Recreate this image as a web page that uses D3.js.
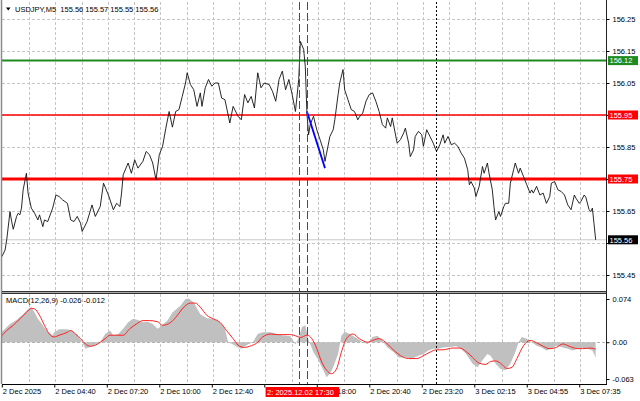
<!DOCTYPE html>
<html><head><meta charset="utf-8">
<script src="https://cdn.jsdelivr.net/npm/d3@7"></script>
<style>
body{margin:0;background:#fff;}
svg{display:block;font-family:"Liberation Sans",Arial,sans-serif;}
</style></head><body><svg id="c" width="640" height="401"></svg>
<script>
// ---------- DATA ----------
const symbolTitle = "USDJPY,M5  155.56 155.57 155.55 155.56";
const macdTitle = "MACD(12,26,9) -0.026 -0.012";
const priceBars = [0,2,3,5,6,7,9,10,11,12,
13,15,16,18,20,22,23,25,26,28,
31,33,35,37,40,42,44,46,48,49,
52,55,57,60,62,65,68,70,72,73,
74,77,79,81,83,86,88,90,92,94,
96,98,100,102,104,106,108,110,112,113,
115,117,119,121,122,124,126,128,130,132,
134,136,139,141,144,146,148,150,152,154,
156,158,160,163,165,167,169,171,173,175,
177,179,181,182,184,185,186,187,188,190,
192,194,196,197,198,200,202,203,205,206,
208,209,211,213,215,217,218,220,222,224,
226,228,230,232,234,235,237,238,241,243,
245,246,248,249,251,252,254,256,257,259,
261,263,265,267,269,270,272,274,276,278,
280,282,284,285,286,288,289,291,293,294,
296,297,299,300,301,303,304,306,307,309,
310,312,313,315,316,318,320,322,323,324,
326,328,330,332,334,335,337,339,341,343,
345,347,349,350,352,353,355,356,358,359,
360,361,362];
const priceValues = [155.507,155.528,155.560,155.648,155.617,155.593,155.633,155.643,155.638,155.659,
155.716,155.768,155.706,155.659,155.643,155.622,155.638,155.601,155.622,155.617,
155.659,155.700,155.695,155.685,155.674,155.622,155.617,155.633,155.612,155.586,
155.617,155.669,155.633,155.664,155.737,155.700,155.654,155.674,155.664,155.706,
155.763,155.800,155.768,155.810,155.784,155.805,155.836,155.826,155.800,155.747,
155.826,155.852,155.909,155.961,155.912,155.961,155.967,156.008,156.050,156.082,
156.045,156.029,155.977,156.019,155.977,156.035,156.061,156.040,156.050,156.050,
156.003,155.998,155.925,155.977,155.946,155.935,156.014,155.988,156.008,155.972,
156.082,156.035,156.050,156.045,156.024,155.993,156.061,156.087,156.029,156.061,
156.014,155.961,156.061,156.180,156.155,156.102,155.956,155.888,155.920,155.946,
155.904,155.873,155.841,155.805,155.831,155.883,155.904,155.935,156.014,156.050,
156.092,156.029,155.998,155.967,155.961,155.935,155.944,155.956,155.993,156.014,
156.019,155.993,155.961,155.920,155.909,155.941,155.914,155.941,155.862,155.873,
155.894,155.909,155.862,155.820,155.841,155.883,155.899,155.888,155.852,155.904,
155.883,155.862,155.836,155.857,155.888,155.862,155.883,155.857,155.862,155.852,
155.831,155.815,155.779,155.732,155.742,155.722,155.695,155.727,155.789,155.768,
155.800,155.768,155.716,155.664,155.622,155.648,155.633,155.664,155.674,155.674,
155.737,155.779,155.800,155.768,155.784,155.758,155.732,155.706,155.716,155.706,
155.727,155.700,155.706,155.674,155.695,155.737,155.742,155.716,155.711,155.700,
155.669,155.654,155.700,155.690,155.674,155.680,155.700,155.693,155.654,155.648,
155.659,155.610,155.560];
const lastPrice = 155.56;
const trendBars = [186,197];
const trendValues = [155.961,155.784];
const levelValues = [156.12, 155.95, 155.75];
const eventBars = [181.3, 186.2];
const sessionBar = 264.4;
const eventLabel = "2: 2025.12.02 17:30";

const histBars = [0,2,5,9,13,16,18,20,22,25,28,31,32,35,40,43,46,49,51,53,56,60,63,66,68,71,74,77,80,83,86,89,92,95,96,101,104,109,112,114,117,121,125,129,133,136,138,141,144,146,150,153,156,159,164,168,171,176,179,181,183,185,187,190,193,196,198,200,202,205,207,209,212,217,220,223,226,229,232,235,239,242,246,250,254,257,260,263,266,269,273,277,280,283,287,290,293,296,298,301,304,307,310,313,315,317,320,323,326,329,332,335,338,342,345,348,351,354,357,360,362];
const histValues = [0.018,0.023,0.031,0.038,0.048,0.057,0.060,0.051,0.040,0.029,0.017,0.012,0.017,0.022,0.022,0.019,0.012,0,-0.011,-0.009,-0.005,0,0.014,0.020,0.012,0.014,0.023,0.034,0.040,0.038,0.034,0.035,0.031,0.023,0.025,0.037,0.051,0.063,0.074,0.075,0.068,0.048,0.041,0.040,0.034,0.023,0,-0.004,-0.009,-0.011,-0.004,0,0.014,0.017,0.017,0.014,0.012,0.010,-0.004,0.008,0.026,0.029,0.004,-0.017,-0.031,-0.048,-0.060,-0.054,-0.043,-0.020,0.011,0.018,0.014,0.006,0,-0.003,0.009,0.011,0.002,-0.009,-0.017,-0.026,-0.026,-0.028,-0.023,-0.020,-0.014,-0.011,-0.011,-0.009,-0.008,-0.007,-0.011,-0.020,-0.037,-0.043,-0.031,-0.020,-0.023,-0.037,-0.046,-0.048,-0.037,-0.017,0,0.009,0.006,0,-0.006,-0.009,-0.014,-0.011,-0.006,-0.009,-0.011,-0.014,-0.011,-0.010,-0.011,-0.014,-0.026];
const signalBars = [0,3,7,11,15,18,20,23,26,29,32,35,40,42,45,48,51,54,57,60,63,66,70,74,78,82,86,90,95,98,103,107,110,115,118,121,125,129,133,137,141,145,148,151,156,159,164,168,171,176,180,182,186,189,192,195,198,201,204,207,210,214,218,223,226,230,235,239,243,248,253,257,261,265,269,275,279,283,287,291,295,298,301,304,308,311,314,318,322,326,330,334,338,342,346,351,354,359,362];
const signalValues = [0.011,0.020,0.029,0.040,0.051,0.058,0.057,0.046,0.029,0.014,0.009,0.012,0.017,0.020,0.014,0.006,-0.003,-0.007,-0.005,0,0.006,0.012,0.012,0.012,0.023,0.031,0.037,0.037,0.035,0.029,0.034,0.046,0.057,0.067,0.067,0.060,0.046,0.040,0.034,0.020,0.006,-0.007,-0.009,-0.007,0,0.009,0.014,0.013,0.013,0.013,0.010,0.008,0.012,0.006,-0.011,-0.034,-0.048,-0.054,-0.046,-0.017,0.006,0.014,0.006,0,0.003,0.006,-0.003,-0.014,-0.023,-0.028,-0.028,-0.023,-0.017,-0.013,-0.013,-0.010,-0.010,-0.016,-0.026,-0.036,-0.038,-0.033,-0.032,-0.036,-0.045,-0.043,-0.028,-0.006,0.003,-0.001,-0.007,-0.011,-0.009,-0.003,-0.007,-0.011,-0.011,-0.010,-0.012];

const priceTicks = [155.45,155.55,155.65,155.75,155.85,155.95,156.05,156.15,156.25];
const macdTicks = [0.074,0,-0.063];
const timeTickBars = [0,32,64,96,128,160,192,224,256,288,320,352];
const timeTickLabels = ["2 Dec 2025","2 Dec 04:40","2 Dec 07:20","2 Dec 10:00","2 Dec 12:40","2 Dec 15:20","2 Dec 18:00","2 Dec 20:40","2 Dec 23:20","3 Dec 02:15","3 Dec 04:55","3 Dec 07:35"];
const gridBars = d3.range(16, 368, 16);

// ---------- LAYOUT ----------
const L = 2, R = 606, mainTop = 2, mainBot = 291, macdTop = 294, axisY = 384;
const FS = 7.5;
const svg = d3.select("#c");
const x = d3.scaleLinear().domain([0, 368.3]).range([1.8, R]);
const y = d3.scaleLinear().domain([155.45, 156.25]).range([275, 19]);
const ym = d3.scaleLinear().domain([-0.063, 0.074]).range([379, 299]);

const defs = svg.append("defs");
defs.append("clipPath").attr("id","cm").append("rect").attr("x",L).attr("y",mainTop).attr("width",R-L).attr("height",mainBot-mainTop);
defs.append("clipPath").attr("id","cd").append("rect").attr("x",L).attr("y",macdTop).attr("width",R-L).attr("height",axisY-macdTop);

const gM = svg.append("g").attr("clip-path","url(#cm)");
const gD = svg.append("g").attr("clip-path","url(#cd)");
const gridC = "#c6c6c6";

// vertical grid
[ [gM, mainTop, mainBot], [gD, macdTop, axisY] ].forEach(([g,a,b]) => {
  g.selectAll(null).data(gridBars).enter().append("line")
    .attr("x1", d => Math.round(x(d)) + 1.5).attr("x2", d => Math.round(x(d)) + 1.5)
    .attr("y1", a).attr("y2", b)
    .attr("stroke", gridC).attr("stroke-dasharray","3,2");
});
// horizontal grid main
gM.selectAll(null).data(priceTicks).enter().append("line")
  .attr("x1", L).attr("x2", R)
  .attr("y1", d => Math.round(y(d)) + 0.5).attr("y2", d => Math.round(y(d)) + 0.5)
  .attr("stroke", gridC).attr("stroke-dasharray","3,2");
// zero line macd
gD.append("line").attr("x1",L).attr("x2",R).attr("y1",Math.round(ym(0))+0.5).attr("y2",Math.round(ym(0))+0.5)
  .attr("stroke","#b0b0b0").attr("stroke-dasharray","3,2");

// current price line
gM.append("line").attr("x1",L).attr("x2",R).attr("y1",y(lastPrice)).attr("y2",y(lastPrice))
  .attr("stroke","#c8c8c8").attr("stroke-width",1);

// levels
const levelColors = ["#1f8a1f","#ff0000","#ff0000"];
const levelWidths = [2, 1.6, 3];
levelValues.forEach((v,i) => {
  gM.append("line").attr("x1",L).attr("x2",R).attr("y1",y(v)).attr("y2",y(v))
    .attr("stroke",levelColors[i]).attr("stroke-width",levelWidths[i]);
});

// MACD histogram
const histData = histBars.map((b,i) => ({b, v: histValues[i]}));
gD.append("path").datum(histData)
  .attr("d", d3.area().x(d => x(d.b)).y0(ym(0)).y1(d => ym(d.v)))
  .attr("fill","#c0c0c0");
// MACD signal
const sigData = signalBars.map((b,i) => ({b, v: signalValues[i]}));
gD.append("path").datum(sigData)
  .attr("d", d3.line().x(d => x(d.b)).y(d => ym(d.v)).curve(d3.curveMonotoneX))
  .attr("fill","none").attr("stroke","#ff2020").attr("stroke-width",1);

// event verticals (both panels)
[ [mainTop, mainBot], [macdTop, axisY] ].forEach(([a,b]) => {
  eventBars.forEach(eb => {
    svg.append("line").attr("x1",Math.round(x(eb))+0.5).attr("x2",Math.round(x(eb))+0.5)
      .attr("y1",a).attr("y2",b).attr("stroke","#ff0000").attr("stroke-dasharray","8,3");
  });
  svg.append("line").attr("x1",Math.round(x(sessionBar))+0.5).attr("x2",Math.round(x(sessionBar))+0.5)
    .attr("y1",a).attr("y2",b).attr("stroke","#000").attr("stroke-dasharray","2,2");
});

// price line
const priceData = priceBars.map((b,i) => ({b, v: priceValues[i]}));
gM.append("path").datum(priceData)
  .attr("d", d3.line().x(d => x(d.b)).y(d => y(d.v)))
  .attr("fill","none").attr("stroke","#111").attr("stroke-width",0.9);
// trend line
const trendData = trendBars.map((b,i) => ({b, v: trendValues[i]}));
gM.append("path").datum(trendData)
  .attr("d", d3.line().x(d => x(d.b)).y(d => y(d.v)))
  .attr("fill","none").attr("stroke","#0000ff").attr("stroke-width",1.8);

// frame
svg.append("line").attr("x1",L-0.5).attr("x2",L-0.5).attr("y1",0).attr("y2",axisY).attr("stroke","#8a8a8a").attr("stroke-width",1.5);
svg.append("line").attr("x1",R+0.5).attr("x2",R+0.5).attr("y1",0).attr("y2",axisY+0.5).attr("stroke","#222");
svg.append("line").attr("x1",L).attr("x2",R).attr("y1",mainBot+0.5).attr("y2",mainBot+0.5).attr("stroke","#333");
svg.append("line").attr("x1",L).attr("x2",R).attr("y1",macdTop-0.5).attr("y2",macdTop-0.5).attr("stroke","#333");
svg.append("line").attr("x1",L).attr("x2",R).attr("y1",mainBot+1.5).attr("y2",mainBot+1.5).attr("stroke","#aaa");

// tags that cover axis labels
const tagValues = levelValues.concat([lastPrice]);
const covered = v => tagValues.some(t => Math.abs(y(t) - y(v)) < 8);

// price axis
const ay = svg.append("g").attr("transform",`translate(${R+0.5},0)`)
  .call(d3.axisRight(y).tickValues(priceTicks).tickSize(3).tickPadding(3).tickFormat(d => covered(d) ? "" : d.toFixed(2)));
ay.select(".domain").remove();
ay.selectAll("text").attr("font-size",FS).attr("font-family","Liberation Sans, Arial").attr("fill","#000");
ay.selectAll("line").attr("stroke","#000");

// macd axis
const am = svg.append("g").attr("transform",`translate(${R+0.5},0)`)
  .call(d3.axisRight(ym).tickValues(macdTicks).tickSize(3).tickPadding(3).tickFormat(d => d === 0 ? "0.00" : d.toFixed(3)));
am.select(".domain").remove();
am.selectAll("text").attr("font-size",FS).attr("font-family","Liberation Sans, Arial").attr("fill","#000");
am.selectAll("line").attr("stroke","#000");

// event tag geometry on the time axis
const ex = x(timeTickBars[5]) + 1.3, ew = 73.5;

// time axis: label under the event tag hidden; the next one shows only the part right of the tag
const ax = svg.append("g").attr("transform",`translate(0,${axisY+0.5})`)
  .call(d3.axisBottom(x).tickValues(timeTickBars).tickSize(3).tickPadding(1).tickFormat((d,i) => i === 5 ? "" : timeTickLabels[i]));
ax.select(".domain").attr("d", `M${L},0H${R+1}`).attr("stroke","#000");
ax.selectAll("text").attr("font-size",FS).attr("font-family","Liberation Sans, Arial").attr("fill","#000")
  .attr("text-anchor","start").attr("dx",0.5);
ax.selectAll("line").attr("stroke","#000");
ax.selectAll(".tick text").each(function(d,i){
  if (i !== 6) return;
  const t = d3.select(this);
  const full = timeTickLabels[i];
  const parts = full.split(" ");
  const prefix = parts.slice(0, parts.length - 1).join(" ") + " ";
  t.text(prefix);
  const pw = this.getComputedTextLength();
  t.text(parts[parts.length - 1]).attr("dx", 0.5 + pw);
});

// event label on time axis
svg.append("rect").attr("x",ex).attr("y",387).attr("width",ew).attr("height",10).attr("fill","#ff0000");
svg.append("text").attr("x",ex+1.5).attr("y",395).attr("font-size",FS).attr("fill","#fff").text(eventLabel);

// price tags
const tagBg = ["#1f8a1f","#ff0000","#ff0000","#000"];
tagValues.forEach((v,i) => {
  const yy = y(v);
  svg.append("rect").attr("x",R+2).attr("y",yy-4.5).attr("width",30).attr("height",9).attr("fill",tagBg[i]);
  svg.append("text").attr("x",R+3.5).attr("y",yy+2.7).attr("font-size",FS).attr("fill","#fff").text(v.toFixed(2));
});

// titles
svg.append("path").attr("d","M6,7.5L10.5,7.5L8.25,10.5Z").attr("fill","#000");
svg.append("text").attr("x",15).attr("y",11.5).attr("font-size",FS).attr("fill","#000").text(symbolTitle).style("white-space","pre");
svg.append("text").attr("x",6).attr("y",303).attr("font-size",FS).attr("fill","#000").text(macdTitle);
</script></body></html>
